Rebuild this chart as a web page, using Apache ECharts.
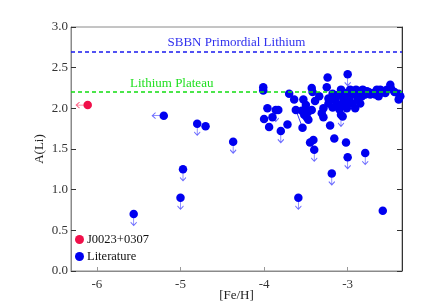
<!DOCTYPE html>
<html><head><meta charset="utf-8">
<script src="https://cdn.jsdelivr.net/npm/echarts@6/dist/echarts.min.js"></script>
<style>html,body{margin:0;padding:0;background:#fff}#c{width:436px;height:308px}</style>
</head><body><div id="c"></div>
<script>
// ---- data ----
const xTicks = [-6, -5, -4, -3];
const yTicks = [0, 0.5, 1.0, 1.5, 2.0, 2.5, 3.0];
const sbbnLevel = 2.7;
const plateauLevel = 2.2;
// J0023+0307 (upper limit on [Fe/H])
const j0023 = [[-6.11, 2.04]];
// Literature: measured A(Li)
const litDetections = [
  [-4.70,1.78],[-3.02,1.58],[-3.16,1.63],[-3.41,1.61],[-3.45,1.58],[-3.21,1.79],[-3.54,1.76],
  [-3.72,1.80],[-3.94,1.77],[-4.00,1.87],[-3.96,2.00],[-3.90,1.89],[-3.83,1.98],[-4.01,2.26],
  [-4.01,2.22],[-3.70,2.18],[-3.64,2.11],[-3.62,1.98],[-3.53,2.11],[-3.50,2.04],[-3.55,1.97],
  [-3.52,1.92],[-3.47,1.96],[-3.49,1.89],[-3.47,1.86],[-3.43,1.98],[-3.43,2.25],[-3.42,2.20],
  [-3.39,2.09],[-3.34,2.15],[-3.31,1.94],[-3.29,2.00],[-3.29,1.89],[-3.25,2.26],[-3.24,2.38],
  [-3.23,2.12],[-3.23,2.06],[-3.18,2.18],[-3.18,2.01],[-3.15,2.10],[-3.13,2.16],[-3.10,1.99],
  [-3.08,2.23],[-3.07,2.15],[-3.06,1.90],[-3.05,2.08],[-3.03,2.19],[-3.01,2.00],[-2.99,2.13],
  [-2.97,2.23],[-2.95,2.06],[-2.93,2.17],[-2.91,2.00],[-2.90,2.23],[-2.88,2.11],[-2.86,2.21],
  [-2.85,2.06],[-2.83,2.15],[-2.82,2.23],[-2.79,2.17],[-2.77,2.21],[-2.73,2.17],[-2.70,2.19],
  [-2.67,2.17],[-2.65,2.23],[-2.63,2.15],[-2.61,2.23],[-2.58,0.74],[-2.55,2.19],[-2.53,2.23],
  [-2.49,2.29],[-2.48,2.24],[-2.39,2.18],[-2.39,2.11],[-2.37,2.15],[-2.98,2.10],[-3.04,2.04],
  [-2.96,2.18],[-3.12,2.05],[-2.87,2.18],[-2.75,2.20],[-2.59,2.20],[-2.44,2.20]
];
// Literature: upper limits on A(Li)
const litUpperLimits = [
  [-5.56,0.70],[-5.00,0.90],[-4.97,1.25],[-4.80,1.81],[-4.37,1.59],[-3.59,0.90],[-3.00,2.42],
  [-3.00,1.40],[-3.19,1.20],[-3.40,1.49],[-2.79,1.45],[-3.80,1.72],[-3.86,1.98],[-3.08,1.92]
];
// Literature: upper limit on [Fe/H]
const litFeHLimits = [[-5.20,1.91]];
// connected measurements of the same star
const linkedPair = [[-3.62,1.98],[-3.54,1.76]];

const BLUE = '#0000f0', RED = '#f0104a', ARROW = '#6c6cff';
const downArrow = 'path://M3 0 L3 10 M0 7 L3 10 L6 7';
const leftArrow = 'path://M10 3 L0 3 M3 0 L0 3 L3 6';
const serif = '"Liberation Serif","DejaVu Serif",serif';

const chart = echarts.init(document.getElementById('c'), null, {renderer:'canvas'});
chart.setOption({
  animation: false,
  backgroundColor: '#fff',
  textStyle: {fontFamily: serif},
  grid: {left: 71, right: 34, top: 27, bottom: 37, show: true, borderColor: '#8a8a8a', borderWidth: 1,
         outerBoundsMode: 'none', containLabel: false},
  legend: {
    data: ['J0023+0307', 'Literature'], orient: 'vertical', left: 70, top: 228,
    icon: 'circle', itemWidth: 9, itemHeight: 9, itemGap: 4,
    textStyle: {fontFamily: serif, fontSize: 12.5, color: '#111', padding: [0,0,0,-2]}
  },
  xAxis: {
    type: 'value', min: -6.31, max: -2.35,
    name: '[Fe/H]', nameLocation: 'middle', nameGap: 18, nameMoveOverlap: false,
    nameTextStyle: {fontFamily: serif, fontSize: 13, color: '#222'},
    axisLine: {show: true, onZero: false, lineStyle: {color: '#8a8a8a'}},
    axisTick: {show: true, inside: true, length: 4, customValues: xTicks, lineStyle: {color: '#999'}},
    axisLabel: {customValues: xTicks, fontFamily: serif, fontSize: 13, color: '#333', margin: 7},
    splitLine: {show: false}
  },
  yAxis: [{
    type: 'value', min: 0, max: 3, interval: 0.5,
    name: 'A(Li)', nameLocation: 'middle', nameGap: 25, nameRotate: 90, nameMoveOverlap: false,
    nameTextStyle: {fontFamily: serif, fontSize: 13, color: '#222'},
    axisLine: {show: true, onZero: false, lineStyle: {color: '#8a8a8a'}},
    axisTick: {show: true, inside: true, length: 5, lineStyle: {color: '#333'}},
    axisLabel: {fontFamily: serif, fontSize: 13, color: '#333', margin: 3, formatter: v => v.toFixed(1)},
    splitLine: {show: false}
  }, {
    type: 'value', min: 0, max: 3, interval: 0.5, position: 'right',
    axisLine: {show: true, onZero: false, lineStyle: {color: '#333'}},
    axisTick: {show: true, inside: true, length: 5, lineStyle: {color: '#333'}},
    axisLabel: {show: false}, splitLine: {show: false}
  }],
  series: [
    {
      name: 'levels', type: 'line', data: [], silent: true,
      markLine: {
        silent: true, symbol: 'none',
        data: [
          {yAxis: sbbnLevel, lineStyle: {color: '#1a1aee', type: [4, 3], width: 1.5},
           label: {show: true, position: 'insideMiddleTop', formatter: 'SBBN Primordial Lithium', color: '#3030ee', fontFamily: serif, fontSize: 13, distance: 2}},
          {yAxis: plateauLevel, lineStyle: {color: '#11dd11', type: [4, 3], width: 1.5},
           label: {show: true, position: 'insideStartTop', formatter: 'Lithium Plateau', color: '#22e022', fontFamily: serif, fontSize: 13, distance: 2, padding: [0, 0, 0, 57]}}
        ]
      }
    },
    {
      name: 'links', type: 'line', data: linkedPair, symbol: 'none', silent: true,
      lineStyle: {color: BLUE, width: 0.8}, z: 2
    },
    {
      name: 'downArrows', type: 'scatter', data: litUpperLimits, symbol: downArrow,
      symbolSize: [6, 11], symbolOffset: [0, 6], silent: true,
      itemStyle: {color: 'none', borderColor: ARROW, borderWidth: 1, opacity: 1}, z: 2
    },
    {
      name: 'leftArrowsLit', type: 'scatter', data: litFeHLimits, symbol: leftArrow,
      symbolSize: [11, 6], symbolOffset: [-6, 0], silent: true,
      itemStyle: {color: 'none', borderColor: ARROW, borderWidth: 1, opacity: 1}, z: 2
    },
    {
      name: 'leftArrowsJ', type: 'scatter', data: j0023, symbol: leftArrow,
      symbolSize: [11, 6], symbolOffset: [-6, 0], silent: true,
      itemStyle: {color: 'none', borderColor: '#ff6688', borderWidth: 1, opacity: 1}, z: 2
    },
    {
      name: 'Literature', type: 'scatter', symbol: 'circle', symbolSize: 8.5,
      data: litDetections.concat(litUpperLimits, litFeHLimits),
      itemStyle: {color: BLUE, opacity: 1}, z: 3
    },
    {
      name: 'J0023+0307', type: 'scatter', symbol: 'circle', symbolSize: 8.5,
      data: j0023, itemStyle: {color: RED, opacity: 1}, z: 4
    }
  ]
});
</script></body></html>
